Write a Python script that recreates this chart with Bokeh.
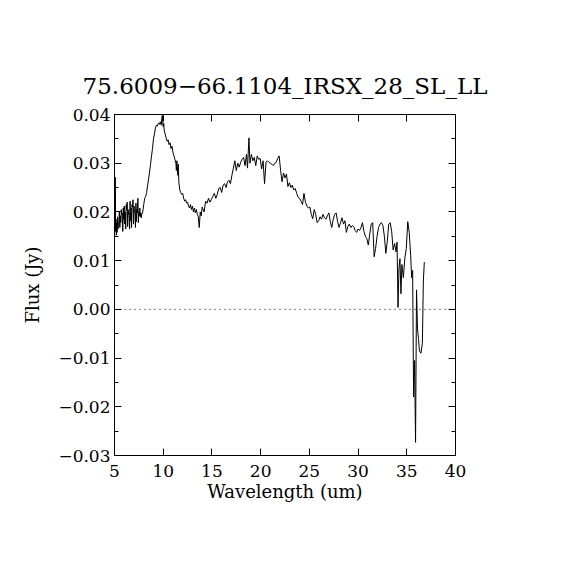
from bokeh.plotting import figure
from bokeh.models import Range1d, LinearAxis, FixedTicker, CustomJSTickFormatter, Span
from bokeh.embed import file_html
from bokeh.resources import INLINE

title_text = "75.6009\u221266.1104_IRSX_28_SL_LL"
x_label = "Wavelength (um)"
y_label = "Flux (Jy)"
x_ticks = [5, 10, 15, 20, 25, 30, 35, 40]
y_ticks = [-0.03, -0.02, -0.01, 0.0, 0.01, 0.02, 0.03, 0.04]
y_minor = [-0.025, -0.015, -0.005, 0.005, 0.015, 0.025, 0.035]

# SL module part
wl_sl = [5.05, 5.08, 5.11, 5.15, 5.19, 5.23, 5.27, 5.31, 5.35, 5.40, 5.45, 5.50, 5.55, 5.60,
         5.65, 5.70, 5.75, 5.80, 5.85, 5.90, 5.95, 6.00, 6.05, 6.10, 6.15, 6.20, 6.25, 6.30,
         6.35, 6.40, 6.45, 6.50, 6.55, 6.60, 6.65, 6.70, 6.75, 6.80, 6.85, 6.90, 6.95, 7.00,
         7.05, 7.10, 7.15, 7.20, 7.25, 7.30, 7.35, 7.40, 7.45, 7.50, 7.55, 7.60, 7.65, 7.70,
         7.75, 7.80, 7.90, 8.00, 8.10, 8.20, 8.30, 8.40, 8.50, 8.60, 8.70, 8.80, 8.90, 9.00,
         9.10, 9.20, 9.30, 9.40, 9.50, 9.60, 9.70, 9.80, 9.85, 9.90, 9.95, 10.00, 10.05, 10.10,
         10.20, 10.30, 10.40, 10.50, 10.60, 10.70, 10.80, 10.90, 11.00, 11.10, 11.20, 11.30,
         11.35, 11.40, 11.50, 11.55, 11.60, 11.70, 11.80, 11.90, 12.00, 12.10, 12.20, 12.30,
         12.40, 12.50, 12.60, 12.70, 12.80, 12.90, 13.00, 13.10, 13.20, 13.30, 13.40, 13.50,
         13.60, 13.70, 13.80, 13.90, 14.00]
flux_sl = [0.0175, 0.0271, 0.0160, 0.0185, 0.0152, 0.0178, 0.0158, 0.0190, 0.0165, 0.0172,
           0.0182, 0.0200, 0.0168, 0.0192, 0.0178, 0.0205, 0.0195, 0.0198, 0.0160, 0.0208,
           0.0185, 0.0212, 0.0175, 0.0200, 0.0165, 0.0215, 0.0205, 0.0220, 0.0170, 0.0205,
           0.0195, 0.0198, 0.0165, 0.0222, 0.0182, 0.0208, 0.0168, 0.0215, 0.0210, 0.0225,
           0.0175, 0.0212, 0.0200, 0.0200, 0.0168, 0.0218, 0.0180, 0.0205, 0.0198, 0.0228,
           0.0178, 0.0200, 0.0192, 0.0208, 0.0190, 0.0198, 0.0188, 0.0195, 0.0200, 0.0215,
           0.0228, 0.0232, 0.0240, 0.0255, 0.0268, 0.0282, 0.0298, 0.0315, 0.0330, 0.0350,
           0.0360, 0.0372, 0.0378, 0.0376, 0.0382, 0.0380, 0.0385, 0.0378, 0.0392, 0.0398,
           0.0385, 0.0375, 0.0382, 0.0368, 0.0360, 0.0352, 0.0345, 0.0348, 0.0338, 0.0342,
           0.0330, 0.0335, 0.0322, 0.0315, 0.0308, 0.0300, 0.0285, 0.0305, 0.0275, 0.0298,
           0.0262, 0.0245, 0.0240, 0.0236, 0.0238, 0.0228, 0.0222, 0.0225, 0.0218, 0.0220,
           0.0212, 0.0208, 0.0215, 0.0205, 0.0212, 0.0200, 0.0208, 0.0198, 0.0205, 0.0195,
           0.0190, 0.0168, 0.0200, 0.0192, 0.0210]

# LL module part
wl_ll = [14.20, 14.35, 14.50, 14.65, 14.80, 14.95, 15.10, 15.25, 15.40, 15.55, 15.70, 15.85,
         16.00, 16.15, 16.30, 16.45, 16.60, 16.75, 16.90, 17.05, 17.20, 17.35, 17.50, 17.65,
         17.80, 17.95, 18.10, 18.25, 18.40, 18.55, 18.65, 18.80, 18.90, 19.05, 19.20, 19.35,
         19.50, 19.65, 19.80, 19.95, 20.10, 20.25, 20.40, 20.55, 20.70, 20.85, 21.00, 21.15,
         21.30, 21.45, 21.60, 21.75, 21.90, 22.05, 22.20, 22.35, 22.50, 22.65, 22.80, 22.95,
         23.10, 23.25, 23.40, 23.55, 23.70, 23.85, 24.00, 24.15, 24.30, 24.45, 24.60, 24.75,
         24.90, 25.05, 25.20, 25.35, 25.50, 25.65, 25.80, 25.95, 26.10, 26.25, 26.40, 26.55,
         26.70, 26.85, 27.00, 27.15, 27.30, 27.45, 27.60, 27.75, 27.90, 28.05, 28.20, 28.35,
         28.50, 28.65, 28.80, 28.95, 29.10, 29.25, 29.40, 29.55, 29.70, 29.85, 30.00, 30.15,
         30.30, 30.45, 30.60, 30.75, 30.90, 31.05, 31.20, 31.35, 31.50, 31.65, 31.80, 31.95,
         32.10, 32.25, 32.40, 32.55, 32.70, 32.85, 33.00, 33.15, 33.30, 33.45, 33.60, 33.75,
         33.90, 34.00, 34.10, 34.20, 34.30, 34.40, 34.50, 34.65, 34.80, 34.95, 35.10, 35.25,
         35.40, 35.50, 35.60, 35.70, 35.80, 35.90, 36.00, 36.10, 36.20, 36.30, 36.45, 36.60,
         36.70, 36.80]
flux_ll = [0.0200, 0.0222, 0.0218, 0.0228, 0.0220, 0.0226, 0.0232, 0.0238, 0.0228, 0.0236,
           0.0248, 0.0250, 0.0240, 0.0255, 0.0258, 0.0250, 0.0262, 0.0265, 0.0258, 0.0275,
           0.0290, 0.0305, 0.0285, 0.0300, 0.0292, 0.0302, 0.0308, 0.0312, 0.0295, 0.0318,
           0.0290, 0.0352, 0.0300, 0.0318, 0.0305, 0.0312, 0.0295, 0.0315, 0.0308, 0.0310,
           0.0288, 0.0305, 0.0258, 0.0302, 0.0305, 0.0302, 0.0300, 0.0298, 0.0295, 0.0300,
           0.0302, 0.0310, 0.0315, 0.0285, 0.0262, 0.0280, 0.0270, 0.0278, 0.0252, 0.0260,
           0.0250, 0.0255, 0.0245, 0.0248, 0.0238, 0.0230, 0.0228, 0.0222, 0.0215, 0.0238,
           0.0220, 0.0212, 0.0208, 0.0210, 0.0195, 0.0186, 0.0205, 0.0195, 0.0178, 0.0182,
           0.0190, 0.0185, 0.0195, 0.0188, 0.0185, 0.0192, 0.0198, 0.0180, 0.0168, 0.0185,
           0.0195, 0.0198, 0.0180, 0.0168, 0.0178, 0.0188, 0.0175, 0.0182, 0.0158, 0.0170,
           0.0175, 0.0168, 0.0172, 0.0170, 0.0162, 0.0158, 0.0165, 0.0162, 0.0168, 0.0178,
           0.0160, 0.0150, 0.0145, 0.0132, 0.0155, 0.0175, 0.0178, 0.0108, 0.0125, 0.0150,
           0.0168, 0.0175, 0.0178, 0.0172, 0.0150, 0.0115, 0.0140, 0.0175, 0.0178, 0.0160,
           0.0122, 0.0135, 0.0118, 0.0138, 0.0004, 0.0085, 0.0104, 0.0032, 0.0092, 0.0065,
           0.0105, 0.0125, 0.0180, 0.0158, 0.0110, 0.0065, 0.0080, -0.0180, -0.0105, -0.0273,
           0.0040, -0.0040, -0.0060, -0.0085, -0.0090, -0.0070, 0.0058, 0.0097]

wl = wl_sl + wl_ll
flux = flux_sl + flux_ll

FONT = "DejaVu Serif"

p = figure(width=554, height=554, output_backend="svg", toolbar_location=None,
           x_range=Range1d(5, 40), y_range=Range1d(-0.03, 0.04),
           min_border_left=114, min_border_right=99, min_border_top=114, min_border_bottom=99,
           x_axis_label=x_label, y_axis_label=y_label)
p.title.text = title_text
p.title.align = "center"
p.title.text_font = FONT
p.title.text_font_size = "23px"
p.title.text_font_style = "normal"
p.title.text_color = "black"
p.title.standoff = 31

p.background_fill_color = "white"
p.border_fill_color = "white"
p.outline_line_color = "black"
p.outline_line_width = 1
p.xgrid.visible = False
p.ygrid.visible = False

fmt_y = CustomJSTickFormatter(code="""
if (Math.abs(tick) < 1e-9) { return '0.00'; }
return (tick < 0 ? '\\u2212' : '') + Math.abs(tick).toFixed(2);
""")

def style_axis(ax, ticks, minor, labels=True, fmt=None):
    ax.ticker = FixedTicker(ticks=ticks, minor_ticks=minor)
    ax.major_tick_in = 7
    ax.major_tick_out = 0
    ax.minor_tick_in = 4
    ax.minor_tick_out = 0
    ax.axis_line_color = "black"
    ax.major_tick_line_color = "black"
    ax.minor_tick_line_color = "black"
    ax.major_label_text_font = FONT
    ax.major_label_text_font_size = "17px"
    ax.major_label_text_color = "black"
    ax.axis_label_text_font = FONT
    ax.axis_label_text_font_size = "18px"
    ax.axis_label_text_font_style = "normal"
    ax.axis_label_text_color = "black"
    if fmt is not None:
        ax.formatter = fmt
    if not labels:
        ax.major_label_text_color = None

xa = p.xaxis[0]
ya = p.yaxis[0]
style_axis(xa, x_ticks, [])
style_axis(ya, y_ticks, y_minor, fmt=fmt_y)
xa.major_label_standoff = 9
xa.axis_label_standoff = 1
ya.major_label_standoff = 4
ya.axis_label_standoff = 12

top = LinearAxis()
style_axis(top, x_ticks, [], labels=False)
top.major_label_text_font_size = "0px"
p.add_layout(top, "above")
right = LinearAxis()
style_axis(right, y_ticks, y_minor, labels=False)
right.major_label_text_font_size = "0px"
p.add_layout(right, "right")

zero = Span(location=0, dimension="width", line_color="black", line_width=1, line_dash="1 4")
p.add_layout(zero)

p.line(wl, flux, line_color="black", line_width=1)

open("out.html", "w").write(file_html(p, INLINE))
